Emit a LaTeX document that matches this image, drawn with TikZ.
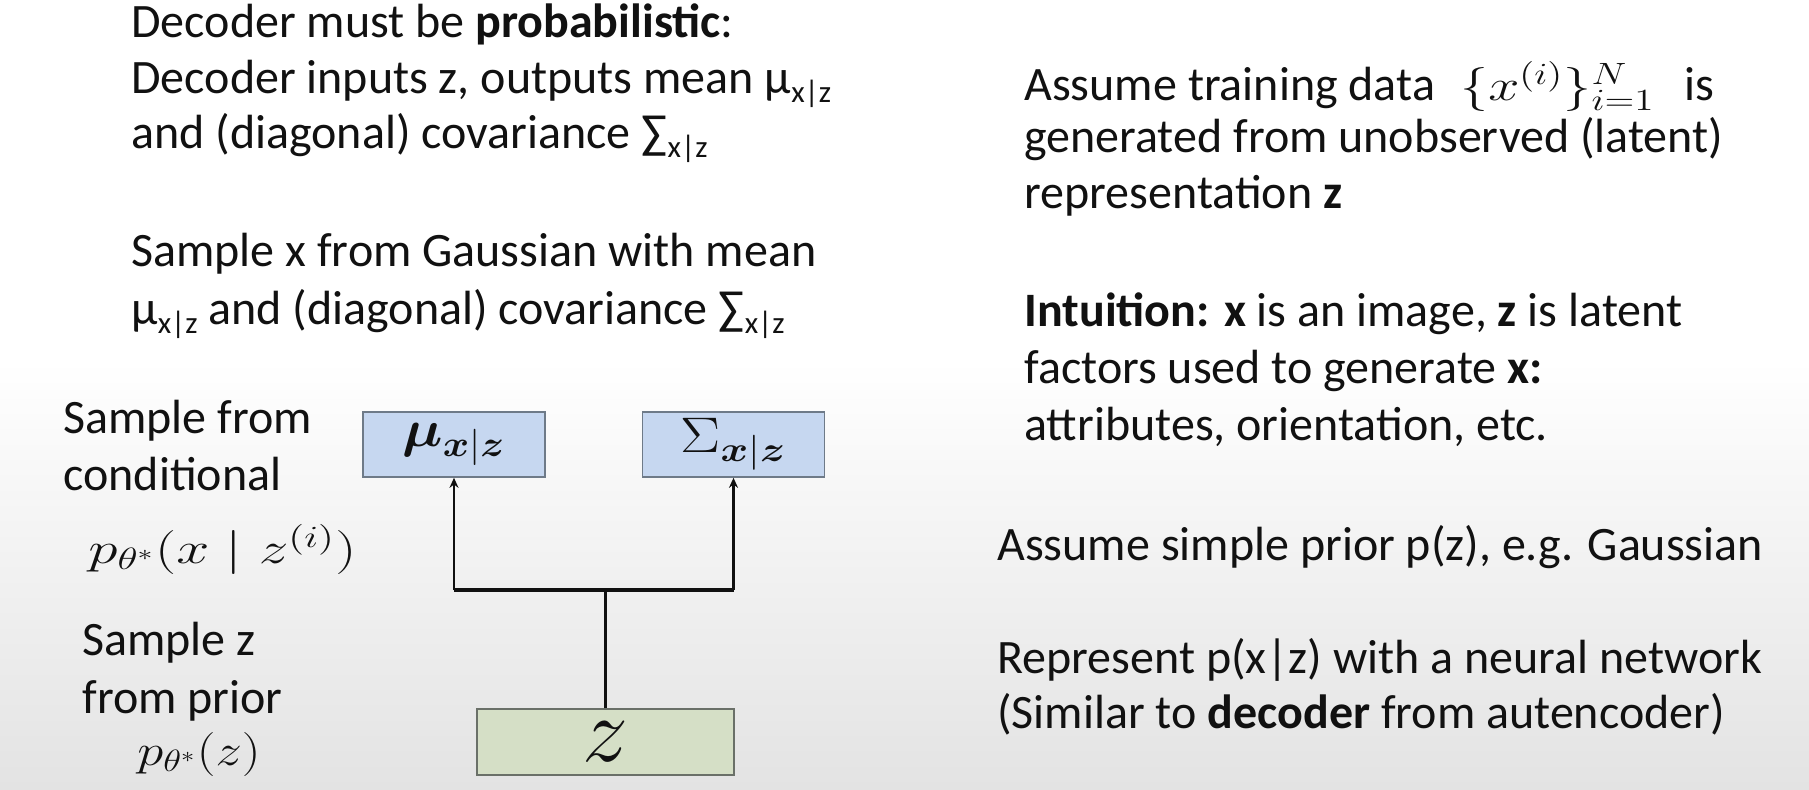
\RequirePackage{fix-cm}
\documentclass[tikz,border=0pt]{standalone}
\usepackage{amsmath,bm}
\usepackage{fontspec}
\setmainfont{Carlito}
\usepackage{graphicx}
\usetikzlibrary{arrows.meta}
\definecolor{ink}{HTML}{111111}
\definecolor{boxblue}{HTML}{C6D7F0}
\definecolor{boxedge}{HTML}{6E7A88}
\definecolor{boxgreen}{HTML}{D5DFC6}
\definecolor{greenedge}{HTML}{6A7068}
\definecolor{bggray}{HTML}{E3E3E3}
\newcommand\subtx[1]{\raisebox{-4.5pt}{\fontsize{15.5}{15.5}\selectfont #1}}
\newcommand\eqimg[2]{\scalebox{#1}[1]{#2}}
\tikzset{
  txt/.style={anchor=base west, inner sep=0pt, text=ink, font=\fontsize{24}{28}\selectfont},
  eq/.style={anchor=base west, inner sep=0pt, text=ink, font=\fontsize{22}{24}\selectfont},
  bluebox/.style={draw=boxedge, fill=boxblue, line width=0.8pt, minimum width=91pt, minimum height=32.5pt, inner sep=0pt, text=ink},
  greenbox/.style={draw=greenedge, fill=boxgreen, line width=0.8pt, minimum width=128.5pt, minimum height=33pt, inner sep=0pt, text=ink, font=\fontsize{46}{48}\selectfont},
  wire/.style={draw=ink, line width=1.2pt},
  bar/.style={draw=ink, line width=1.8pt},
  tip/.style={-{Stealth[length=5pt,width=4.5pt]}}
}
\begin{document}
\begin{tikzpicture}[x=0.5pt,y=-0.5pt]
\useasboundingbox (0,0) rectangle (1809,789);
\fill[white] (0,0) rectangle (1809,789);
\shade[top color=white, bottom color=bggray] (0,360) rectangle (1809,789);

% left top text
\node[txt] (l1) at (131,37) {Decoder must be \textbf{probabilistic}:};
\node[txt] (l2) at (131,93) {Decoder inputs z, outputs mean μ\subtx{x|z}};
\node[txt] (l3) at (131,148) {and (diagonal) covariance ∑\subtx{x|z}};
\node[txt] (l4) at (131,266) {Sample x from Gaussian with mean};
\node[txt] (l5) at (131,324) {μ\subtx{x|z} and (diagonal) covariance ∑\subtx{x|z}};

% right text
\node[txt] (r1) at (1024,100) {Assume training data};
\node[eq] (r1m) at (1460,100) {\eqimg{1.27}{$\{x^{(i)}\}_{i=1}^{N}$}};
\node[txt] (r1b) at (1684,100) {is};
\node[txt] (r2) at (1024,152) {generated from unobserved (latent)};
\node[txt] (r3) at (1024,208) {representation \textbf{z}};
\node[txt] (r4) at (1024,326) {\textbf{Intuition: x} is an image, \textbf{z} is latent};
\node[txt] (r5) at (1024,383) {factors used to generate \textbf{x:}};
\node[txt] (r6) at (1024,440) {attributes, orientation, etc.};
\node[txt] (r7) at (997,560) {Assume simple prior p(z), e.g. Gaussian};
\node[txt] (r8) at (997,673) {Represent p(x|z) with a neural network};
\node[txt] (r9) at (997,728) {(Similar to \textbf{decoder} from autencoder)};

% left labels of diagram
\node[txt] (s1) at (63,433) {Sample from};
\node[txt] (s2) at (63,490) {conditional};
\node[eq] (s3) at (88,563) {\eqimg{1.35}{$p_{\theta^*}(x \mid z^{(i)})$}};
\node[txt] (s4) at (82,655) {Sample z};
\node[txt] (s5) at (82,713) {from prior};
\node[eq] (s6) at (137,765) {\eqimg{1.2}{$p_{\theta^*}(z)$}};

% boxes
\node[bluebox, font=\fontsize{26}{28}\selectfont] (mu) at (454,444.5) {\eqimg{1.1}{$\bm{\mu}_{\bm{x}|\bm{z}}$}};
\node[bluebox, font=\fontsize{25}{27}\selectfont] (sig) at (733.5,444.5) {\eqimg{1.2}{$\Sigma_{\bm{x}|\bm{z}}$}};
\node[greenbox] (zb) at (605.5,742) {$z$};

% connectors
\coordinate (j) at (605.5,590);
\draw[wire] (zb.north) -- (j);
\draw[bar] (mu.south |- j) -- (sig.south |- j);
\draw[wire,tip] (mu.south |- j) -- (mu.south);
\draw[wire,tip] (sig.south |- j) -- (sig.south);
\end{tikzpicture}
\end{document}
